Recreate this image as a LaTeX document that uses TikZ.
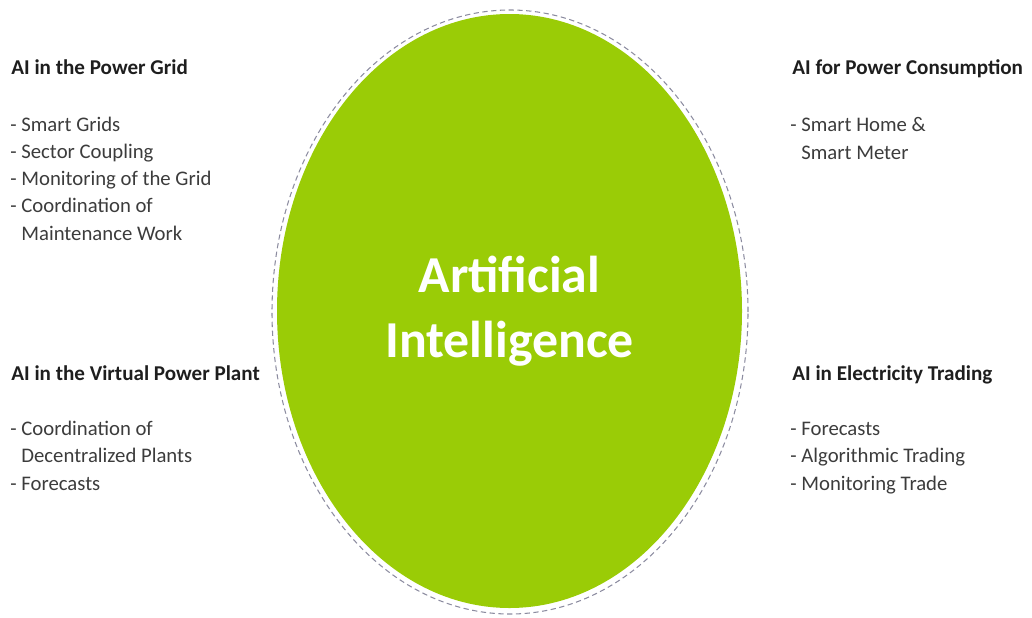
\documentclass[tikz,border=0pt]{standalone}
\usepackage{fontspec}
\setmainfont{Carlito}
\usepackage{xcolor}
\usetikzlibrary{shapes.geometric, positioning}

\definecolor{aigreen}{RGB}{154,204,6}
\definecolor{headgray}{RGB}{30,30,30}
\definecolor{itemgray}{RGB}{60,60,60}
\definecolor{rimgray}{RGB}{140,140,160}

\begin{document}
\begin{tikzpicture}[
    heading/.style={anchor=base west, inner sep=0pt, font=\bfseries\fontsize{12}{14}\selectfont, text=headgray},
    items/.style={anchor=base west, inner sep=0pt, align=left, font=\fontsize{11.8}{15.4}\selectfont, text=itemgray},
    rim/.style={ellipse, draw=rimgray, line width=0.6pt, dash pattern=on 3pt off 2pt, inner sep=0pt,
                minimum width=9.52cm, minimum height=12.08cm},
    core/.style={ellipse, fill=aigreen, inner sep=0pt, minimum width=9.3cm, minimum height=11.88cm, align=center,
                 text=white, font=\bfseries\fontsize{29.5}{37}\selectfont}
]
    \useasboundingbox (0,0) rectangle (20.64,12.34);

    % Central ellipse
    \node[rim] (rim) at (10.2,6.1) {};
    \node[core] (ai) at (10.19,6.12) {Artificial\\Intelligence};

    % Left column (lists sit on the baseline of their last line)
    \node[heading] (grid) at (0.22,10.86) {AI in the Power Grid};
    \node[items] (gridlist) at (0.2,7.54) {- Smart Grids\\- Sector Coupling\\- Monitoring of the Grid\\- Coordination of\\\phantom{- }Maintenance Work};
    \node[heading] (vpp) at (0.22,4.74) {AI in the Virtual Power Plant};
    \node[items] (vpplist) at (0.2,2.54) {- Coordination of\\\phantom{- }Decentralized Plants\\- Forecasts};

    % Right column
    \node[heading] (consumption) at (15.84,10.86) {AI for Power Consumption};
    \node[items] (consumptionlist) at (15.8,9.16) {- Smart Home \&\\\phantom{- }Smart Meter};
    \node[heading] (trading) at (15.84,4.74) {AI in Electricity Trading};
    \node[items] (tradinglist) at (15.8,2.54) {- Forecasts\\- Algorithmic Trading\\- Monitoring Trade};
\end{tikzpicture}
\end{document}
